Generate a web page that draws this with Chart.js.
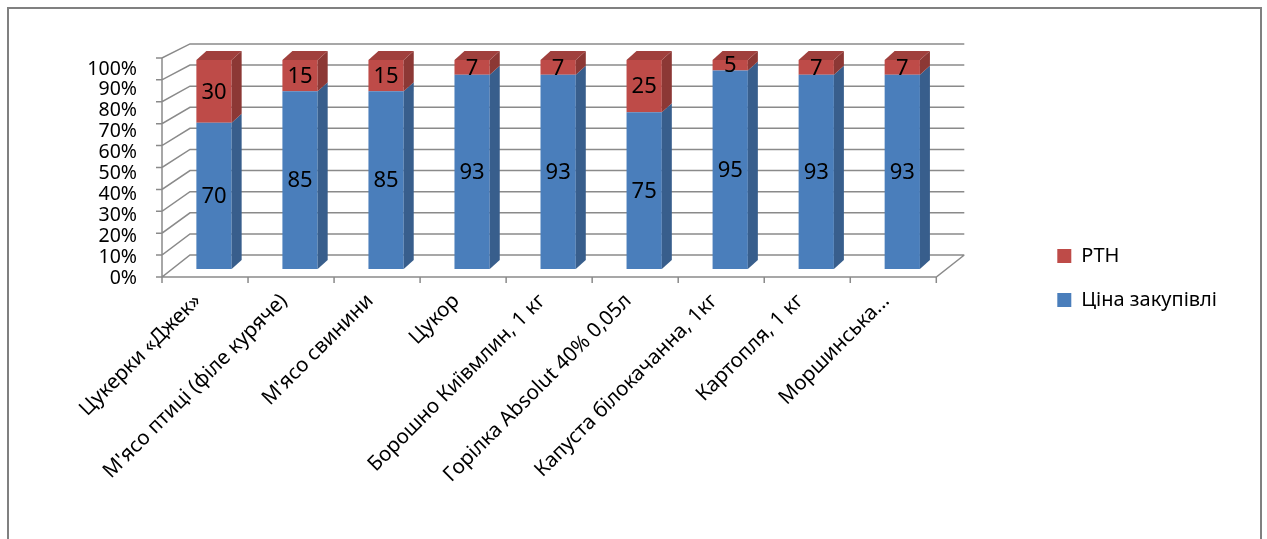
<!DOCTYPE html>
<html lang="uk">

<head>
    <meta charset="UTF-8">
    <title>Ціна закупівлі та РТН</title>
    <script src="https://cdn.jsdelivr.net/npm/chart.js@4/dist/chart.umd.min.js"></script>
    <style>
        body { margin: 0; background: #fff; }
    </style>
</head>

<body>

    <canvas id="chart" width="1267" height="539"></canvas>

    <script>
        const categories = [
            'Цукерки «Джек»',
            "М'ясо птиці (філе куряче)",
            "М'ясо свинини",
            'Цукор',
            'Борошно Київмлин, 1 кг',
            'Горілка Absolut 40% 0,05л',
            'Капуста білокачанна, 1кг',
            'Картопля, 1 кг',
            'Моршинська...'
        ];
        const purchasePrice = [70, 85, 85, 93, 93, 75, 95, 93, 93];
        const markup = [30, 15, 15, 7, 7, 25, 5, 7, 7];

        // fake 3d: side of bars, front edge and back wall of the box
        const depth = { dx: 10, dy: -9 };
        const wall = { front: { dx: -9, dy: 8, k: 1.048 }, back: { dx: 19, dy: -14, k: 1.01 } };
        const lineColor = '#8a8a8a';

        const box3d = {
            id: 'box3d',
            beforeDraw(chart) {
                const ctx = chart.ctx;
                ctx.save();
                ctx.fillStyle = '#fff';
                ctx.fillRect(0, 0, chart.width, chart.height);
                ctx.strokeStyle = '#808080';
                ctx.lineWidth = 2;
                ctx.strokeRect(8, 8, 1253, 600);
                ctx.restore();
            },
            beforeDatasetsDraw(chart) {
                const { ctx, chartArea: a, scales: { x, y } } = chart;
                const base = y.getPixelForValue(0);
                const fy = v => base + wall.front.dy + (y.getPixelForValue(v) - base) * wall.front.k;
                const by = v => base + wall.back.dy + (y.getPixelForValue(v) - base) * wall.back.k;
                const fl = a.left + wall.front.dx, fr = a.right + wall.front.dx;
                const bl = a.left + wall.back.dx, br = a.right + wall.back.dx;

                ctx.save();
                ctx.strokeStyle = lineColor;
                ctx.lineWidth = 1.5;
                ctx.beginPath();
                y.ticks.forEach(t => {
                    ctx.moveTo(fl - 6, fy(t.value));
                    ctx.lineTo(fl, fy(t.value));
                    ctx.lineTo(bl, by(t.value));
                    ctx.lineTo(br, by(t.value));
                });
                ctx.moveTo(fl, fy(y.min));
                ctx.lineTo(fl, fy(y.max));
                ctx.moveTo(fl, fy(0));
                ctx.lineTo(fr, fy(0));
                ctx.lineTo(br, by(0));
                const w = x.width / categories.length;
                for (let i = 0; i <= categories.length; i++) {
                    ctx.moveTo(fl + i * w, fy(0));
                    ctx.lineTo(fl + i * w, fy(0) + 6);
                }
                ctx.stroke();
                ctx.restore();
            },
            afterDatasetsDraw(chart) {
                const ctx = chart.ctx;
                const last = chart.data.datasets.length - 1;
                ctx.save();
                chart.data.datasets.forEach((ds, di) => {
                    chart.getDatasetMeta(di).data.forEach(bar => {
                        const { x, y, base, width } = bar.getProps(['x', 'y', 'base', 'width'], true);
                        const l = x - width / 2, r = x + width / 2;
                        ctx.fillStyle = ds.sideColor;
                        ctx.beginPath();
                        ctx.moveTo(r, base);
                        ctx.lineTo(r + depth.dx, base + depth.dy);
                        ctx.lineTo(r + depth.dx, y + depth.dy);
                        ctx.lineTo(r, y);
                        ctx.closePath();
                        ctx.fill();
                        if (di === last) {
                            ctx.fillStyle = ds.topColor;
                            ctx.beginPath();
                            ctx.moveTo(l, y);
                            ctx.lineTo(l + depth.dx, y + depth.dy);
                            ctx.lineTo(r + depth.dx, y + depth.dy);
                            ctx.lineTo(r, y);
                            ctx.closePath();
                            ctx.fill();
                        }
                    });
                });
                // value labels
                ctx.fillStyle = '#000';
                ctx.font = '22px "Noto Sans", sans-serif';
                ctx.textAlign = 'center';
                ctx.textBaseline = 'middle';
                chart.data.datasets.forEach((ds, di) => {
                    chart.getDatasetMeta(di).data.forEach((bar, i) => {
                        const { x, y, base } = bar.getProps(['x', 'y', 'base'], true);
                        ctx.fillText(ds.data[i], x, (y + base) / 2 + 1);
                    });
                });
                ctx.restore();
            }
        };

        Chart.defaults.font.family = '"Noto Sans", sans-serif';
        Chart.defaults.color = '#000';

        const ctx = document.getElementById('chart').getContext('2d');
        const myChart = new Chart(ctx, {
            type: 'bar',
            data: {
                labels: categories,
                datasets: [{
                        label: 'Ціна закупівлі',
                        data: purchasePrice,
                        backgroundColor: '#4A7EBB',
                        sideColor: '#385E8C',
                        topColor: '#5B8ACB',
                        borderWidth: 0,
                        barPercentage: 0.41,
                        categoryPercentage: 1
                    },
                    {
                        label: 'РТН',
                        data: markup,
                        backgroundColor: '#BE4B48',
                        sideColor: '#8C3835',
                        topColor: '#A0403D',
                        borderWidth: 0,
                        barPercentage: 0.41,
                        categoryPercentage: 1
                    }
                ]
            },
            plugins: [box3d],
            options: {
                responsive: false,
                animation: false,
                devicePixelRatio: 1,
                layout: {
                    padding: { top: 17, right: 40, bottom: 0, left: 0 }
                },
                plugins: {
                    tooltip: { enabled: false },
                    legend: {
                        position: 'right',
                        reverse: true,
                        labels: {
                            boxWidth: 14,
                            boxHeight: 14,
                            padding: 24,
                            font: { size: 20 }
                        }
                    }
                },
                scales: {
                    x: {
                        stacked: true,
                        grid: { display: false, drawTicks: false },
                        border: { display: false },
                        ticks: {
                            autoSkip: false,
                            minRotation: 45,
                            maxRotation: 45,
                            padding: 20,
                            labelOffset: -16,
                            font: { size: 20.5 }
                        },
                        afterFit: s => { s.height = 270; }
                    },
                    y: {
                        stacked: true,
                        min: 0,
                        max: 100,
                        grid: { display: false, drawTicks: false },
                        border: { display: false },
                        ticks: {
                            autoSkip: false,
                            stepSize: 10,
                            padding: 34,
                            labelOffset: 9,
                            font: { size: 19.5 },
                            callback: v => v + '%'
                        },
                        afterFit: s => { s.width = 171; }
                    },
                    // empty axes, only to hold space for the 3d box and the legend
                    padTop: {
                        type: 'linear',
                        position: 'top',
                        grid: { display: false },
                        border: { display: false },
                        ticks: { display: false },
                        afterFit: s => { s.height = 43; }
                    },
                    padRight: {
                        type: 'linear',
                        position: 'right',
                        grid: { display: false },
                        border: { display: false },
                        ticks: { display: false },
                        afterFit: s => { s.width = 88; }
                    }
                }
            }
        });
    </script>

</body>

</html>
